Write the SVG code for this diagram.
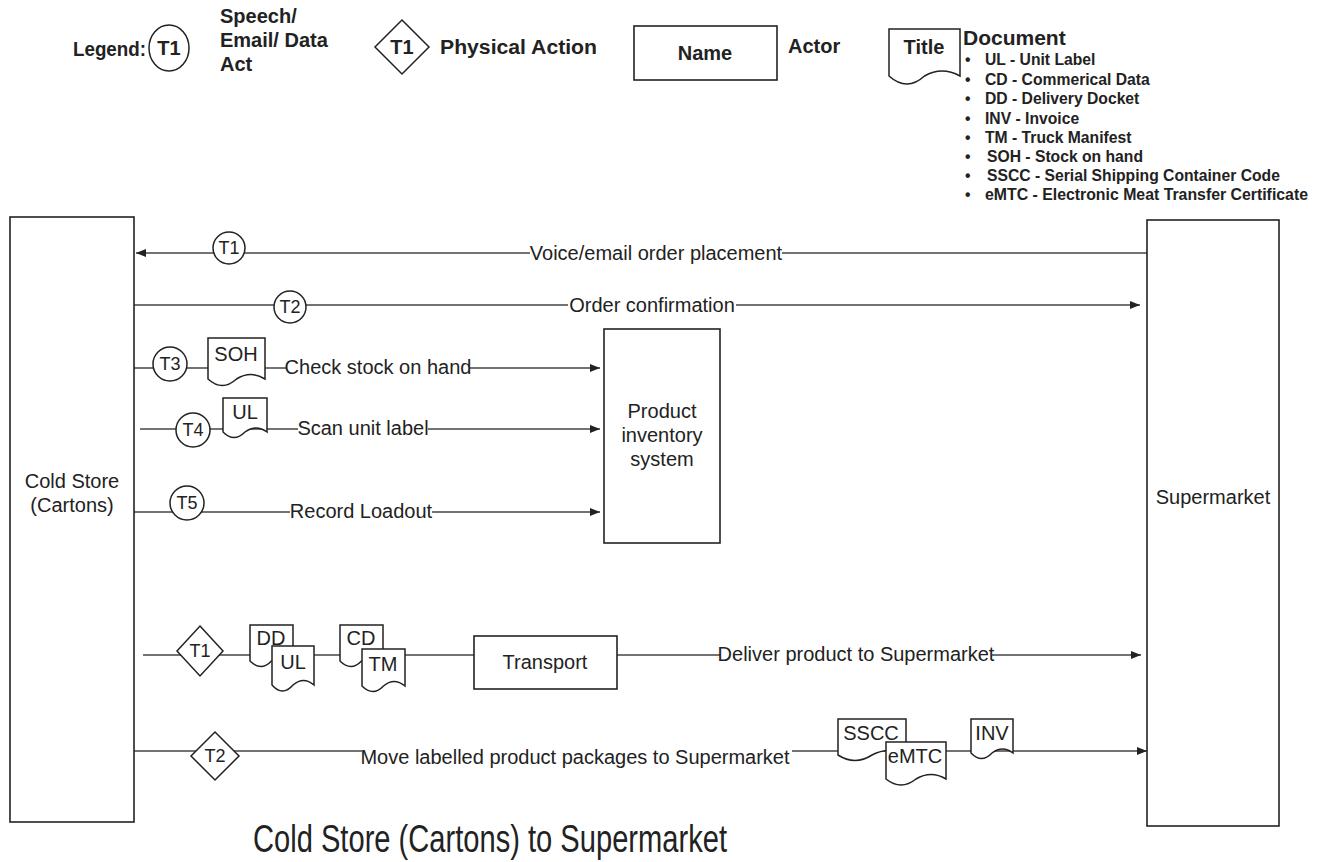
<svg xmlns="http://www.w3.org/2000/svg" width="1325" height="862" viewBox="0 0 1325 862">
<style>
.box{fill:#fff;stroke:#222;stroke-width:1.6}
.shape{fill:#fff;stroke:#222;stroke-width:1.5}
.ln{stroke:#444;stroke-width:1.3;fill:none}
.t{font-family:"Liberation Sans",Arial,sans-serif;fill:#222;dominant-baseline:central}
.b{font-weight:bold}
.c{text-anchor:middle}
.lbl{font-size:20px}
.bg{fill:#fff}
</style>
<defs>
<marker id="arr" viewBox="0 0 10 8" refX="10" refY="4" markerWidth="10" markerHeight="8" markerUnits="userSpaceOnUse" orient="auto">
<path d="M0,0 L10,4 L0,8 Z" fill="#222"/>
</marker>
</defs>
<rect width="1325" height="862" fill="#fff"/>

<g id="legend">
<text class="t b" x="73" y="48" font-size="20.5" textLength="73" lengthAdjust="spacingAndGlyphs">Legend:</text>
<ellipse class="shape" cx="169" cy="48" rx="20" ry="23"/>
<text class="t b c" x="169" y="48" font-size="20">T1</text>
<text class="t b" x="220" y="16" font-size="20">Speech/</text>
<text class="t b" x="220" y="40" font-size="20">Email/ Data</text>
<text class="t b" x="220" y="64" font-size="20">Act</text>
<polygon class="shape" points="402,20 429,47 402,74 375,47"/>
<text class="t b c" x="402" y="47" font-size="20">T1</text>
<text class="t b" x="440" y="47" font-size="20" textLength="157" lengthAdjust="spacingAndGlyphs">Physical Action</text>
<rect class="box" x="634" y="26" width="143" height="54"/>
<text class="t b c" x="705" y="53" font-size="20">Name</text>
<text class="t b" x="788" y="46" font-size="20">Actor</text>
<path class="shape" d="M889,29 H960 V76 Q942,66 924.5,76 Q907,92 889,76 Z"/>
<text class="t b c" x="924" y="47" font-size="20">Title</text>
<text class="t b" x="963" y="37" font-size="21">Document</text>
<g font-size="15.7" font-weight="bold">
<text class="t" x="965" y="59">•</text><text class="t" x="985" y="59">UL - Unit Label</text>
<text class="t" x="965" y="79">•</text><text class="t" x="985" y="79">CD - Commerical Data</text>
<text class="t" x="965" y="98">•</text><text class="t" x="985" y="98">DD - Delivery Docket</text>
<text class="t" x="965" y="118">•</text><text class="t" x="985" y="118">INV - Invoice</text>
<text class="t" x="965" y="137">•</text><text class="t" x="985" y="137">TM - Truck Manifest</text>
<text class="t" x="965" y="156">•</text><text class="t" x="987" y="156">SOH - Stock on hand</text>
<text class="t" x="965" y="175">•</text><text class="t" x="987" y="175">SSCC - Serial Shipping Container Code</text>
<text class="t" x="965" y="194">•</text><text class="t" x="985" y="194" textLength="323" lengthAdjust="spacingAndGlyphs">eMTC - Electronic Meat Transfer Certificate</text>
</g>
</g>

<g id="connectors">
<path class="ln" d="M1147,253 H136" marker-end="url(#arr)"/>
<path class="ln" d="M134,305 H1140" marker-end="url(#arr)"/>
<path class="ln" d="M134,368 H600" marker-end="url(#arr)"/>
<path class="ln" d="M140,429 H600" marker-end="url(#arr)"/>
<path class="ln" d="M134,512 H600" marker-end="url(#arr)"/>
<path class="ln" d="M143,655 H474"/>
<path class="ln" d="M617,655 H1141" marker-end="url(#arr)"/>
<path class="ln" d="M134,751 H1147" marker-end="url(#arr)"/>
<rect class="bg" x="530" y="243" width="252" height="22"/>
<text class="t lbl c" x="656" y="253">Voice/email order placement</text>
<rect class="bg" x="568" y="294" width="168" height="22"/>
<text class="t lbl c" x="652" y="305">Order confirmation</text>
<rect class="bg" x="287" y="357" width="182" height="22"/>
<text class="t lbl c" x="378" y="367">Check stock on hand</text>
<rect class="bg" x="298" y="418" width="130" height="22"/>
<text class="t lbl c" x="363" y="428">Scan unit label</text>
<rect class="bg" x="290" y="501" width="142" height="22"/>
<text class="t lbl c" x="361" y="511">Record Loadout</text>
<rect class="bg" x="720" y="644" width="272" height="22"/>
<text class="t lbl c" x="856" y="654">Deliver product to Supermarket</text>
<rect class="bg" x="362" y="740" width="430" height="30"/>
<text class="t lbl c" x="575" y="757">Move labelled product packages to Supermarket</text>
</g>

<g id="cold-store">
<rect class="box" x="10" y="217" width="124" height="605"/>
<text class="t lbl c" x="72" y="481">Cold Store</text>
<text class="t lbl c" x="72" y="505">(Cartons)</text>
</g>
<g id="supermarket">
<rect class="box" x="1147" y="220" width="132" height="606"/>
<text class="t lbl c" x="1213" y="497">Supermarket</text>
</g>
<g id="inventory">
<rect class="box" x="604" y="329" width="116" height="214"/>
<text class="t lbl c" x="662" y="411">Product</text>
<text class="t lbl c" x="662" y="435">inventory</text>
<text class="t lbl c" x="662" y="459">system</text>
</g>
<g id="transport">
<rect class="box" x="474" y="636" width="143" height="53"/>
<text class="t lbl c" x="545" y="662">Transport</text>
</g>

<g id="t1-speech"><circle class="shape" cx="229" cy="248" r="16"/><text class="t c" x="229" y="248" font-size="18">T1</text></g>
<g id="t2-speech"><circle class="shape" cx="290" cy="307" r="16"/><text class="t c" x="290" y="307" font-size="18">T2</text></g>
<g id="t3-speech"><circle class="shape" cx="170" cy="364" r="17"/><text class="t c" x="170" y="364" font-size="18">T3</text></g>
<g id="t4-speech"><circle class="shape" cx="193" cy="430" r="17"/><text class="t c" x="193" y="430" font-size="18">T4</text></g>
<g id="t5-speech"><circle class="shape" cx="187" cy="503" r="17"/><text class="t c" x="187" y="503" font-size="18">T5</text></g>

<g id="t1-physical"><polygon class="shape" points="200,626 223,651 200,676 177,651"/><text class="t c" x="200" y="651" font-size="18">T1</text></g>
<g id="t2-physical"><polygon class="shape" points="215,732 239,756 215,780 191,756"/><text class="t c" x="215" y="756" font-size="18">T2</text></g>

<g id="doc-soh"><path class="shape" d="M208,338 H265 V379 Q250.75,370 236.5,379 Q222.25,392 208,379 Z"/><text class="t c" x="236" y="354" font-size="20">SOH</text></g>
<g id="doc-ul-scan"><path class="shape" d="M223,398 H267 V432 Q256,424 245,432 Q234,443 223,432 Z"/><text class="t c" x="245" y="412" font-size="20">UL</text></g>
<g id="doc-dd"><path class="shape" d="M250,625 H293 V661 Q282,653 271.5,661 Q261,672 250,661 Z"/><text class="t c" x="271" y="638" font-size="20">DD</text></g>
<g id="doc-ul"><path class="shape" d="M272,646 H314 V685 Q303.5,676 293,685 Q282.5,697 272,685 Z"/><text class="t c" x="293" y="662" font-size="20">UL</text></g>
<g id="doc-cd"><path class="shape" d="M340,625 H383 V661 Q372,653 361.5,661 Q351,672 340,661 Z"/><text class="t c" x="361" y="638" font-size="20">CD</text></g>
<g id="doc-tm"><path class="shape" d="M362,649 H405 V686 Q394,677 383.5,686 Q373,697 362,686 Z"/><text class="t c" x="383" y="664" font-size="20">TM</text></g>
<g id="doc-sscc"><path class="shape" d="M838,719 H906 V755 Q889,746 872,755 Q855,766 838,755 Z"/><text class="t c" x="871" y="733" font-size="20">SSCC</text></g>
<g id="doc-emtc"><path class="shape" d="M886,742 H946 V779 Q931,770 916,779 Q901,791 886,779 Z"/><text class="t c" x="915" y="756" font-size="20">eMTC</text></g>
<g id="doc-inv"><path class="shape" d="M971,719 H1013 V753 Q1002.5,745 992,753 Q981.5,764 971,753 Z"/><text class="t c" x="992" y="733" font-size="20">INV</text></g>

<text class="t" x="253" y="839" font-size="38" textLength="474" lengthAdjust="spacingAndGlyphs">Cold Store (Cartons) to Supermarket</text>
</svg>
